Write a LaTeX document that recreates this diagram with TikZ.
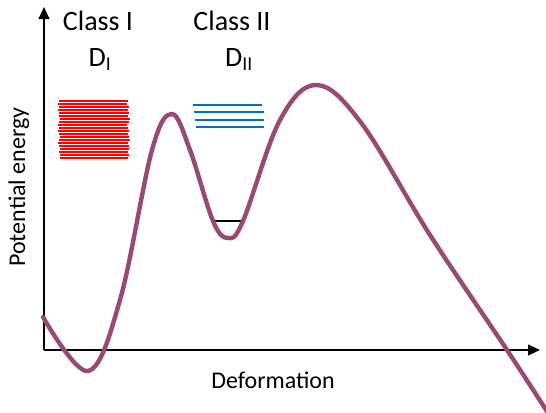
\documentclass[tikz,border=0pt]{standalone}
\usepackage{fontspec}
\setmainfont{Carlito}
\usetikzlibrary{
  positioning,
  arrows.meta,
}
\definecolor{axisCol}{HTML}{000000}
\definecolor{curveCol}{HTML}{984A72}
\definecolor{levelRed}{HTML}{FF0000}
\definecolor{levelBlue}{HTML}{0070C0}
\tikzset{
  axis/.style={-{Triangle[length=9pt, width=8pt]}, axisCol, line width=1.5pt},
  potential/.style={curveCol, line width=3.3pt, line cap=round, line join=round},
  redlevel/.style={levelRed, line width=2pt},
  bluelevel/.style={levelBlue, line width=1.6pt},
  groundlevel/.style={black, line width=1.5pt},
  label/.style={font=\fontsize{18}{22}\selectfont, inner sep=0pt, anchor=base},
  classlabel/.style={label, font=\fontsize{21}{25}\selectfont},
}

\begin{document}
\begin{tikzpicture}[x=0.75pt, y=-0.75pt]

  \useasboundingbox (0, 0) rectangle (546, 412);

  % Axes
  \coordinate (origin) at (44, 350);
  \coordinate (xend) at (540, 350);
  \coordinate (yend) at (44, 7);
  \draw[axis] (origin) -- (xend);
  \draw[axis] (origin) -- (yend);
  \node[label, rotate=90] (ylabel) at (25, 187) {Potential energy};
  \node[label] (xlabel) at (273, 388) {Deformation};

  % Class I states
  \foreach \y/\xa/\xb in {101/59/128, 104/58/127, 107/59/129, 110/58/128,
      113/59/129, 116/59/128, 119/60/130, 122/59/129, 125/58/127, 128/59/128,
      131/58/129, 134/59/128, 137/60/129, 140/59/130, 143/58/128, 146/59/129,
      149/60/129, 152/59/128, 155/60/129, 158/60/128}
    \draw[redlevel] (\xa, \y) -- (\xb, \y);
  \node[classlabel] (classone) at (98, 30) {Class I};
  \node[classlabel] (done) at (100, 66) {D\textsubscript{I}};

  % Class II states
  \foreach \y/\xa/\xb in {105/193/262, 112/194/264, 120/195/264, 127/196/264}
    \draw[bluelevel] (\xa, \y) -- (\xb, \y);
  \node[classlabel] (classtwo) at (232, 30) {Class II};
  \node[classlabel] (dtwo) at (239, 66) {D\textsubscript{II}};

  % Second well
  \draw[groundlevel] (215, 221) -- (241, 221);

  % Potential curve
  \draw[potential] plot[smooth, tension=0.6] coordinates {
    (43, 317) (88, 371) (120, 300) (152, 150) (172, 114) (190, 150)
    (213, 221) (228, 238) (243, 221) (280, 120) (317, 85) (362, 124)
    (430, 235) (507, 350) (550, 416)};

\end{tikzpicture}
\end{document}
